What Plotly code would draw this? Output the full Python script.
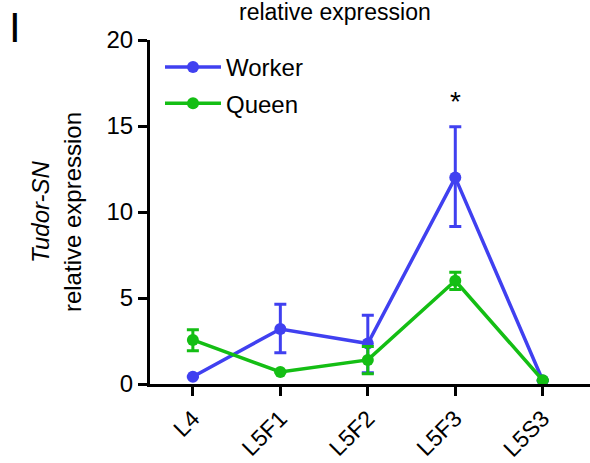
import plotly.graph_objects as go

categories = ["L4", "L5F1", "L5F2", "L5F3", "L5S3"]
worker = [0.42, 3.2, 2.35, 12.0, 0.2]
worker_err_plus = [0.0, 1.43, 1.65, 2.95, 0.0]
worker_err_minus = [0.0, 1.38, 1.7, 2.85, 0.0]
queen = [2.56, 0.7, 1.4, 6.0, 0.22]
queen_err_plus = [0.6, 0.0, 0.78, 0.5, 0.0]
queen_err_minus = [0.62, 0.0, 0.8, 0.5, 0.0]
y_ticks = [0, 5, 10, 15, 20]

BLUE = "rgb(64,64,240)"
GREEN = "rgb(20,190,20)"
FONT = "Arial, Liberation Sans, sans-serif"

W, H = 590, 463
L, R, T, B = 150, 0, 40, 79
pw, ph = W - L - R, H - T - B


def px(x):
    return (x - L) / pw


def py(y):
    return (H - B - y) / ph


fig = go.Figure()
fig.add_trace(go.Scatter(
    x=categories, y=worker, name="Worker", mode="lines+markers",
    line=dict(color=BLUE, width=3.5), marker=dict(color=BLUE, size=12),
    error_y=dict(type="data", symmetric=False, array=worker_err_plus,
                 arrayminus=worker_err_minus, color=BLUE, thickness=3, width=6),
    legendgroup="w",
))
fig.add_trace(go.Scatter(
    x=categories, y=queen, name="Queen", mode="lines+markers",
    line=dict(color=GREEN, width=3.5), marker=dict(color=GREEN, size=12),
    error_y=dict(type="data", symmetric=False, array=queen_err_plus,
                 arrayminus=queen_err_minus, color=GREEN, thickness=3, width=6),
    legendgroup="q",
))

star_idx = 3
fig.add_annotation(x=categories[star_idx], y=worker[star_idx] + worker_err_plus[star_idx] + 1.5,
                   text="*", showarrow=False, font=dict(size=28, color="black", family=FONT),
                   xref="x", yref="y")

fig.add_annotation(x=px(335), y=py(12), xref="paper", yref="paper", text="relative expression",
                   showarrow=False, yanchor="middle", xanchor="center",
                   font=dict(size=23, color="black", family=FONT))
fig.add_annotation(x=px(15), y=py(28), xref="paper", yref="paper", text="I",
                   showarrow=False, xanchor="center", yanchor="middle",
                   font=dict(size=42, color="black", family=FONT))

fig.update_layout(
    width=W, height=H,
    margin=dict(l=L, r=R, t=T, b=B, pad=0, autoexpand=False),
    plot_bgcolor="white", paper_bgcolor="white",
    font=dict(family=FONT, size=24, color="black"),
    showlegend=True,
    legend=dict(x=px(160), y=py(45), xanchor="left", yanchor="top",
                bgcolor="rgba(0,0,0,0)", font=dict(size=24),
                tracegroupgap=2, itemwidth=56),
    xaxis=dict(
        type="category", range=[-0.49, 4.54], automargin=False,
        showline=True, linecolor="black", linewidth=3,
        ticks="outside", ticklen=9, tickwidth=3, tickcolor="black",
        tickangle=-45, tickfont=dict(size=23), ticklabelstandoff=0,
        showgrid=False, zeroline=False,
    ),
    yaxis=dict(
        range=[0, 20], tickvals=y_ticks, automargin=False,
        showline=True, linecolor="black", linewidth=3,
        ticks="outside", ticklen=9, tickwidth=3, tickcolor="black",
        tickfont=dict(size=24), showgrid=False, zeroline=False,
        title=dict(text="<i>Tudor-SN</i><br>relative expression",
                   font=dict(size=24), standoff=19),
    ),
)

fig.write_html("out.html")
